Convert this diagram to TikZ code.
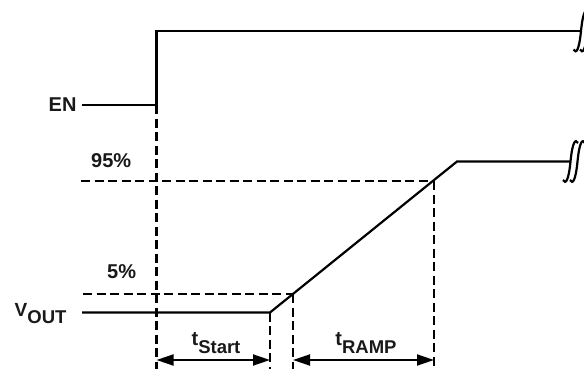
\documentclass[tikz,border=0pt]{standalone}
\usepackage{fontspec}
\setmainfont{Liberation Sans}
\usetikzlibrary{arrows.meta}
\newcommand\brkmark[2]{%
  \draw[wave] (#1-7.5,#2+18.5) .. controls (#1-5,#2+23) and (#1-2,#2+20) .. (#1,#2) .. controls (#1+2,#2-20) and (#1+5,#2-23) .. (#1+7.5,#2-18.5);}
\tikzset{
  wave/.style={line width=2.2pt, line join=miter},
  guide/.style={line width=2.1pt, dash pattern=on 9pt off 4.5pt},
  dim/.style={line width=1.9pt, {Triangle[length=17pt,width=11pt]}-{Triangle[length=17pt,width=11pt]}},
  lbl/.style={inner sep=0pt, anchor=base west, font=\bfseries\fontsize{20}{20}\selectfont, text=black!90}
}
\begin{document}
\begin{tikzpicture}[x=1pt,y=-1pt]
\useasboundingbox (0,0) rectangle (584,369);
\begin{scope}
\clip (0,0) rectangle (584,369);
% labels
\node[lbl] (en) at (48.5,111.5) {EN};
\node[lbl] (p95) at (91,167.3) {95\%};
\node[lbl] (p5) at (107,278.3) {5\%};
\node[lbl] (vout) at (14.5,316) {\fontsize{19}{19}\selectfont V\raisebox{-7pt}{\fontsize{18.5}{18.5}\selectfont OUT}};
\node[lbl, anchor=base] (ts) at (216,345) {t\raisebox{-8pt}{\fontsize{18.5}{18.5}\selectfont Start}};
\node[lbl, anchor=base] (tr) at (366,345) {t\raisebox{-8pt}{\fontsize{18.5}{18.5}\selectfont RAMP}};
% coordinates
\coordinate (enA) at (82,105);
\coordinate (enB) at (156.5,105);
\coordinate (enC) at (156.5,31);
\coordinate (enD) at (581,31);
\coordinate (vA) at (82,312.5);
\coordinate (vB) at (270,312.5);
\coordinate (vC) at (457,161.5);
\coordinate (vD) at (570.5,161.5);
\coordinate (hiL) at (81,181);
\coordinate (hiR) at (434,181);
\coordinate (loL) at (83,294);
\coordinate (loR) at (293,294);
\coordinate (b1) at (156.5,369);
\coordinate (b2) at (270,369);
\coordinate (b3) at (293,369);
\coordinate (b4) at (434,369);
\coordinate (a1) at (156.5,360);
\coordinate (a2) at (270,360);
\coordinate (a3) at (293,360);
\coordinate (a4) at (434,360);
% waveforms
\draw[wave] (enA) -- (enB) -- (enC) -- (enD);
\draw[wave] (vA) -- (vB) -- (vC) -- (vD);
\brkmark{581}{31}
\brkmark{587.5}{31}
\brkmark{570.5}{161.5}
\brkmark{577.5}{161.5}
% guides
\draw[guide] (enB) -- (b1);
\draw[guide] (hiL) -- (hiR);
\draw[guide] (loL) -- (loR);
\draw[guide] (vB) -- (b2);
\draw[guide] (loR) -- (b3);
\draw[guide] (hiR) -- (b4);
% dimension arrows
\draw[dim] (a1) -- (a2);
\draw[dim] (a3) -- (a4);
\end{scope}
\end{tikzpicture}
\end{document}
